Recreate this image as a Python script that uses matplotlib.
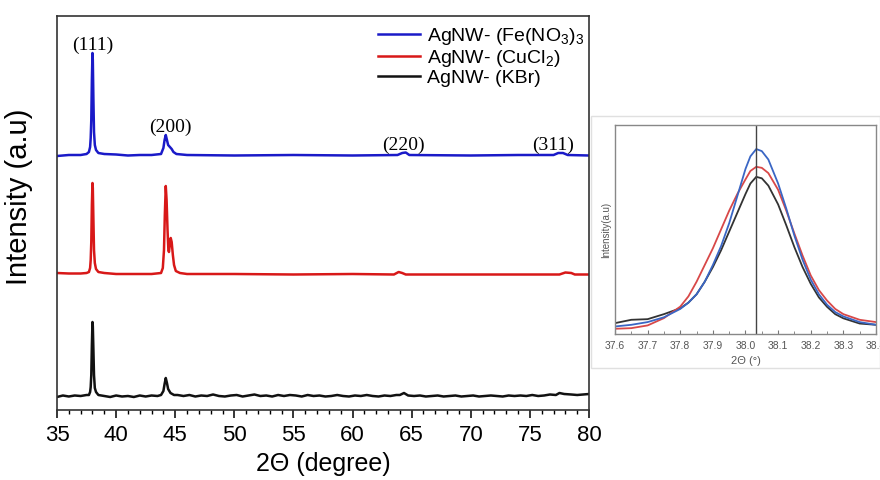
#!/usr/bin/env python3
# XRD patterns of AgNW samples + zoom of the (111) peak

import matplotlib
matplotlib.use("Agg")
from matplotlib import pyplot as plt
from matplotlib.ticker import MultipleLocator
from matplotlib.patches import Rectangle

plt.rcParams['font.family'] = ['Liberation Sans', 'DejaVu Sans']
plt.rcParams['mathtext.fontset'] = 'custom'
plt.rcParams['mathtext.rm'] = 'Liberation Sans'
plt.rcParams['mathtext.it'] = 'Liberation Sans'

# ---------------- main pattern (stacked, arbitrary units) ----------------
fe_x = [35.0, 36.0, 37.0, 37.5, 37.7, 37.8, 37.85, 37.9, 37.95, 38.0, 38.03, 38.08,
        38.13, 38.2, 38.3, 38.5, 39.0, 40.0, 41.0, 42.0, 43.0, 43.8, 44.0, 44.1,
        44.2, 44.3, 44.4, 44.55, 44.7, 44.85, 45.1, 46.0, 50.0, 55.0, 60.0, 63.8,
        64.2, 64.5, 64.8, 70.0, 74.0, 77.0, 77.4, 77.8, 78.2, 80.0]
fe_y = [254.0, 255.0, 255.0, 256.0, 258.0, 263.0, 272.0, 290.0, 330.0, 357.0, 350.0, 310.0,
        278.0, 265.0, 260.0, 257.0, 256.0, 255.5, 254.5, 255.0, 255.0, 256.0, 262.0, 270.0,
        275.0, 270.0, 265.0, 263.0, 261.0, 258.0, 256.0, 255.0, 254.5, 255.0, 254.5, 255.0,
        257.0, 257.5, 255.0, 254.5, 255.0, 255.0, 257.0, 257.0, 255.0, 254.5]

cu_x = [35.0, 36.0, 37.0, 37.5, 37.7, 37.8, 37.85, 37.9, 37.95, 38.0, 38.03, 38.08,
        38.13, 38.2, 38.3, 38.5, 39.0, 40.0, 42.0, 43.0, 43.8, 43.95, 44.05, 44.12,
        44.2, 44.27, 44.35, 44.42, 44.47, 44.55, 44.62, 44.7, 44.8, 44.9, 45.05, 45.4,
        46.0, 50.0, 55.0, 60.0, 63.5, 63.9, 64.2, 64.5, 70.0, 77.5, 78.0, 78.5,
        78.8, 80.0]
cu_y = [137.0, 136.5, 136.5, 137.0, 138.0, 142.0, 150.0, 168.0, 205.0, 227.0, 222.0, 190.0,
        160.0, 147.0, 141.0, 138.0, 137.0, 136.0, 136.0, 136.0, 137.0, 142.0, 160.0, 195.0,
        224.0, 210.0, 180.0, 160.0, 158.0, 166.0, 172.0, 168.0, 155.0, 145.0, 139.0, 137.0,
        136.0, 136.0, 135.5, 136.0, 135.5, 138.0, 137.0, 135.5, 135.5, 135.5, 137.5, 137.0,
        135.5, 135.5]

kbr_x = [35.0, 35.5, 36.0, 36.5, 37.0, 37.5, 37.7, 37.8, 37.85, 37.9, 37.95, 38.0,
         38.03, 38.08, 38.13, 38.2, 38.3, 38.5, 39.0, 39.5, 40.0, 40.5, 41.0, 41.5,
         42.0, 42.5, 43.0, 43.5, 43.8, 44.0, 44.1, 44.2, 44.3, 44.4, 44.6, 44.9,
         45.2, 45.7, 46.2, 46.7, 47.2, 47.7, 48.2, 48.7, 49.2, 49.7, 50.2, 50.7,
         51.2, 51.7, 52.2, 52.7, 53.2, 53.7, 54.2, 54.7, 55.2, 55.7, 56.2, 56.7,
         57.2, 57.7, 58.2, 58.7, 59.2, 59.7, 60.2, 60.7, 61.2, 61.7, 62.2, 62.7,
         63.2, 63.7, 64.0, 64.35, 64.7, 65.2, 65.7, 66.2, 66.7, 67.2, 67.7, 68.2,
         68.7, 69.2, 69.7, 70.2, 70.7, 71.2, 71.7, 72.2, 72.7, 73.2, 73.7, 74.2,
         74.7, 75.2, 75.7, 76.2, 76.7, 77.2, 77.5, 77.9, 78.5, 79.0, 79.5, 80.0]
kbr_y = [13.0, 14.5, 13.5, 14.5, 14.0, 15.0, 15.0, 18.0, 23.0, 35.0, 65.0, 88.0,
         84.0, 60.0, 35.0, 22.0, 18.0, 15.0, 14.0, 13.0, 14.5, 13.5, 14.0, 13.0,
         14.5, 13.5, 14.5, 14.0, 15.0, 19.0, 26.0, 32.0, 27.0, 21.0, 17.0, 15.0,
         15.0, 14.0, 15.0, 13.5, 14.5, 14.0, 15.5, 14.0, 13.5, 14.5, 15.0, 13.5,
         14.5, 15.5, 14.0, 14.5, 13.5, 15.0, 14.0, 15.0, 14.5, 13.5, 15.0, 14.0,
         14.5, 13.5, 14.0, 15.0, 14.0, 13.5, 14.5, 14.0, 15.0, 14.0, 13.5, 14.5,
         14.0, 15.0, 15.0, 17.0, 14.5, 14.0, 14.5, 13.5, 14.0, 14.5, 13.5, 14.0,
         14.5, 13.5, 14.0, 14.5, 13.5, 14.0, 14.5, 14.0, 13.5, 14.5, 14.0, 14.5,
         14.0, 15.0, 14.0, 14.5, 15.5, 15.0, 17.0, 16.0, 15.5, 15.0, 15.5, 16.0]

series_labels = ['AgNW- (Fe(NO$_3$)$_3$', 'AgNW- (CuCl$_2$)', 'AgNW- (KBr)']
series_colors = ['#1a1ac8', '#d81818', '#111111']

peak_names = ['(111)', '(200)', '(220)', '(311)']
peak_pos = [38.05, 44.55, 64.3, 76.95]
peak_y = [356, 274, 256, 256]

# ---------------- zoom on (111) peak ----------------
z_x = [37.6, 37.65, 37.7, 37.75, 37.8, 37.825, 37.85, 37.875, 37.9, 37.925, 37.95,
       37.975, 38.0, 38.015, 38.033, 38.05, 38.07, 38.1, 38.125, 38.15, 38.175,
       38.2, 38.225, 38.25, 38.275, 38.3, 38.35, 38.4]
z_fe = [0.036, 0.044, 0.057, 0.08, 0.12, 0.15, 0.19, 0.25, 0.33, 0.42, 0.53,
        0.66, 0.79, 0.85, 0.885, 0.875, 0.835, 0.72, 0.60, 0.47, 0.355,
        0.26, 0.19, 0.14, 0.105, 0.084, 0.057, 0.044]
z_cu = [0.025, 0.028, 0.041, 0.076, 0.131, 0.18, 0.25, 0.33, 0.41, 0.50, 0.59,
        0.67, 0.74, 0.78, 0.80, 0.795, 0.77, 0.69, 0.59, 0.48, 0.375,
        0.28, 0.21, 0.16, 0.12, 0.095, 0.068, 0.057]
z_kbr = [0.052, 0.068, 0.071, 0.095, 0.123, 0.15, 0.19, 0.25, 0.32, 0.40, 0.49,
         0.58, 0.67, 0.72, 0.752, 0.745, 0.71, 0.62, 0.52, 0.415, 0.32,
         0.24, 0.175, 0.13, 0.095, 0.075, 0.05, 0.044]
z_colors = ['#3a66c4', '#d84848', '#333333']
peak_center = 38.033

fig = plt.figure(figsize=(8.8, 4.8), dpi=100)
ax = fig.add_axes([57 / 880, 70 / 480, 532 / 880, 394 / 480])

for xs, ys, lab, c in zip([fe_x, cu_x, kbr_x], [fe_y, cu_y, kbr_y], series_labels, series_colors):
    ax.plot(xs, ys, color=c, lw=1.8, label=lab)

for name, px, py in zip(peak_names, peak_pos, peak_y):
    ax.text(px, py, name, ha='center', va='bottom', fontsize=14,
            family='Liberation Serif')

ax.set_xlim(35, 80)
ax.set_ylim(0, 394)
ax.set_yticks([])
ax.xaxis.set_major_locator(MultipleLocator(5))
ax.xaxis.set_minor_locator(MultipleLocator(1))
ax.tick_params(axis='x', which='major', length=6, width=1.1, labelsize=16, pad=5)
ax.tick_params(axis='x', which='minor', length=3, width=1.0)
for s in ax.spines.values():
    s.set_color('#333333')
    s.set_linewidth(1.2)
ax.set_xlabel('2\u0398 (degree)', fontsize=18, labelpad=4)
ax.set_ylabel('Intensity (a.u)', fontsize=21)
ax.yaxis.set_label_coords(-0.045, 0.54)

ax.legend(loc='upper left', bbox_to_anchor=(0.588, 0.995), frameon=False,
          fontsize=14, handlelength=2.2, handletextpad=0.35, labelspacing=0.05,
          borderaxespad=0)

# inset picture frame
fig.patches.append(Rectangle((591 / 880, 112 / 480), 289 / 880, 252 / 480,
                             transform=fig.transFigure, fill=False,
                             edgecolor='#e0e0e0', lw=1.0))

axi = fig.add_axes([615 / 880, 146 / 480, 261 / 880, 209 / 480])
for ys, c in zip([z_kbr, z_cu, z_fe], [z_colors[2], z_colors[1], z_colors[0]]):
    axi.plot(z_x, ys, color=c, lw=1.3)
axi.axvline(peak_center, color='#444444', lw=1.0)
axi.set_xlim(37.6, 38.4)
axi.set_ylim(0, 1)
axi.set_yticks([])
axi.set_xticks([37.6, 37.7, 37.8, 37.9, 38.0, 38.1, 38.2, 38.3, 38.4])
axi.xaxis.set_minor_locator(MultipleLocator(0.05))
axi.tick_params(axis='x', which='major', direction='in', length=3, width=0.8,
                labelsize=7.5, labelcolor='#555555', color='#777777', pad=5)
axi.tick_params(axis='x', which='minor', direction='in', length=2, width=0.6,
                color='#777777')
for s in axi.spines.values():
    s.set_color('#888888')
    s.set_linewidth(1.0)
axi.set_xlabel('2\u0398 (\u00b0)', fontsize=8, color='#555555', labelpad=4)
axi.set_ylabel('Intensity(a.u)', fontsize=7, color='#555555', labelpad=3)

fig.savefig('out.png', dpi=100)
